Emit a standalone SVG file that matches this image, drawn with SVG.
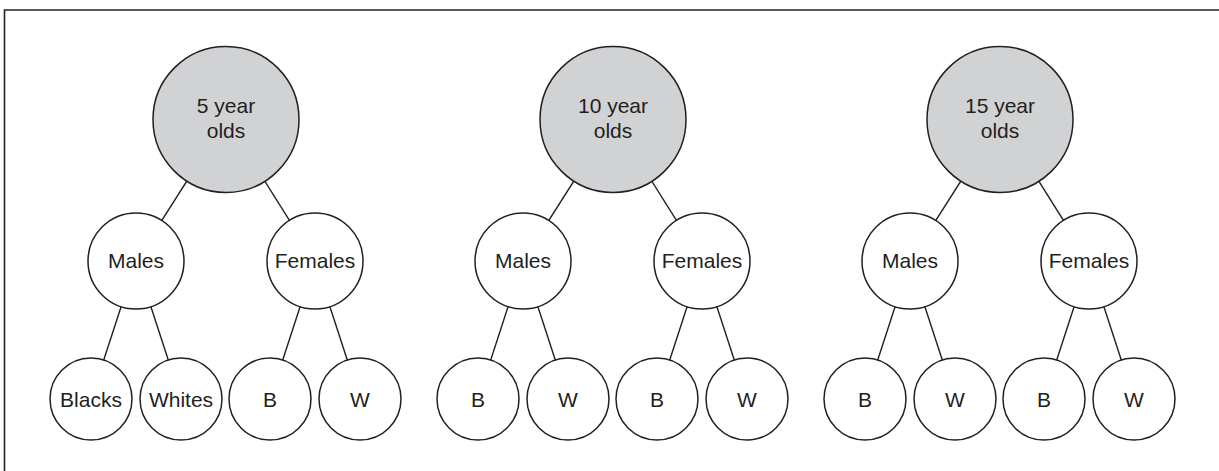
<svg xmlns="http://www.w3.org/2000/svg" width="1219" height="471" viewBox="0 0 1219 471">
<style>
.frame{fill:none;stroke:#231f20;stroke-width:1.6}
.edge{stroke:#231f20;stroke-width:1.4;fill:none}
.top{fill:#d1d2d4;stroke:#231f20;stroke-width:1.5}
.n{fill:#fff;stroke:#231f20;stroke-width:1.5}
text{font-family:"Liberation Sans",Arial,sans-serif;font-size:21px;fill:#231f20;text-anchor:middle}
</style>
<rect width="1219" height="471" fill="#fff"/>
<path class="frame" d="M4.5,471 V10 H1219"/>
<g id="connectors">
<line class="edge" x1="226" y1="119.5" x2="136" y2="261"/>
<line class="edge" x1="226" y1="119.5" x2="315" y2="261"/>
<line class="edge" x1="136" y1="261" x2="91" y2="399"/>
<line class="edge" x1="136" y1="261" x2="181" y2="399"/>
<line class="edge" x1="315" y1="261" x2="270" y2="399"/>
<line class="edge" x1="315" y1="261" x2="360" y2="399"/>
<line class="edge" x1="613" y1="119.5" x2="523" y2="261"/>
<line class="edge" x1="613" y1="119.5" x2="702" y2="261"/>
<line class="edge" x1="523" y1="261" x2="478" y2="399"/>
<line class="edge" x1="523" y1="261" x2="568" y2="399"/>
<line class="edge" x1="702" y1="261" x2="657" y2="399"/>
<line class="edge" x1="702" y1="261" x2="747" y2="399"/>
<line class="edge" x1="1000" y1="119.5" x2="910" y2="261"/>
<line class="edge" x1="1000" y1="119.5" x2="1089" y2="261"/>
<line class="edge" x1="910" y1="261" x2="865" y2="399"/>
<line class="edge" x1="910" y1="261" x2="955" y2="399"/>
<line class="edge" x1="1089" y1="261" x2="1044" y2="399"/>
<line class="edge" x1="1089" y1="261" x2="1134" y2="399"/>
</g>
<g id="t1-root"><circle class="top" cx="226" cy="119.5" r="73"/><text x="226" y="113.3">5 year</text><text x="226" y="137.7">olds</text></g>
<g id="t1-males"><circle class="n" cx="136" cy="261" r="48"/><text x="136" y="268.3">Males</text></g>
<g id="t1-females"><circle class="n" cx="315" cy="261" r="48"/><text x="315" y="268.3">Females</text></g>
<g id="t1-mb"><circle class="n" cx="91" cy="399" r="41"/><text x="91" y="406.7">Blacks</text></g>
<g id="t1-mw"><circle class="n" cx="181" cy="399" r="41"/><text x="181" y="406.7">Whites</text></g>
<g id="t1-fb"><circle class="n" cx="270" cy="399" r="41"/><text x="270" y="406.7">B</text></g>
<g id="t1-fw"><circle class="n" cx="360" cy="399" r="41"/><text x="360" y="406.7">W</text></g>
<g id="t2-root"><circle class="top" cx="613" cy="119.5" r="73"/><text x="613" y="113.3">10 year</text><text x="613" y="137.7">olds</text></g>
<g id="t2-males"><circle class="n" cx="523" cy="261" r="48"/><text x="523" y="268.3">Males</text></g>
<g id="t2-females"><circle class="n" cx="702" cy="261" r="48"/><text x="702" y="268.3">Females</text></g>
<g id="t2-mb"><circle class="n" cx="478" cy="399" r="41"/><text x="478" y="406.7">B</text></g>
<g id="t2-mw"><circle class="n" cx="568" cy="399" r="41"/><text x="568" y="406.7">W</text></g>
<g id="t2-fb"><circle class="n" cx="657" cy="399" r="41"/><text x="657" y="406.7">B</text></g>
<g id="t2-fw"><circle class="n" cx="747" cy="399" r="41"/><text x="747" y="406.7">W</text></g>
<g id="t3-root"><circle class="top" cx="1000" cy="119.5" r="73"/><text x="1000" y="113.3">15 year</text><text x="1000" y="137.7">olds</text></g>
<g id="t3-males"><circle class="n" cx="910" cy="261" r="48"/><text x="910" y="268.3">Males</text></g>
<g id="t3-females"><circle class="n" cx="1089" cy="261" r="48"/><text x="1089" y="268.3">Females</text></g>
<g id="t3-mb"><circle class="n" cx="865" cy="399" r="41"/><text x="865" y="406.7">B</text></g>
<g id="t3-mw"><circle class="n" cx="955" cy="399" r="41"/><text x="955" y="406.7">W</text></g>
<g id="t3-fb"><circle class="n" cx="1044" cy="399" r="41"/><text x="1044" y="406.7">B</text></g>
<g id="t3-fw"><circle class="n" cx="1134" cy="399" r="41"/><text x="1134" y="406.7">W</text></g>
</svg>
